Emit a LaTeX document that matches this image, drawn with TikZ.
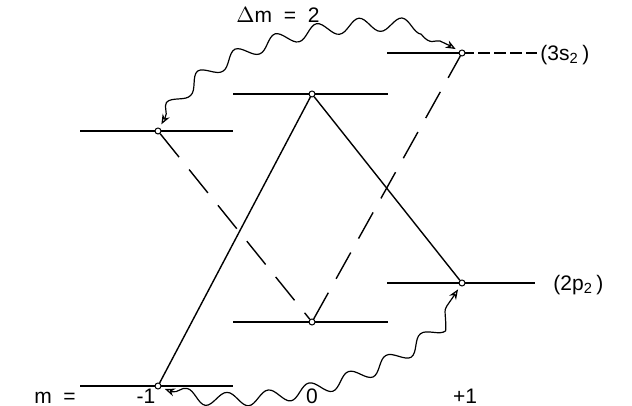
\documentclass[tikz,border=0pt]{standalone}
\usepackage{fontspec}
\setmainfont{Liberation Sans}
\usetikzlibrary{arrows.meta,decorations.pathmorphing}
\tikzset{
  level/.style={line width=0.7pt},
  transsolid/.style={line width=0.7pt},
  transdashed/.style={line width=0.7pt, dash pattern=on 15pt off 8pt},
  tailline/.style={line width=0.6pt, dash pattern=on 6pt off 2pt},
  state/.style={circle, draw, fill=white, line width=0.5pt, inner sep=0pt, minimum size=3pt},
  wavy/.style={{Stealth[open,length=5pt,width=4pt]}-{Stealth[open,length=5pt,width=4pt]}, line width=0.6pt,
    decorate, decoration={snake, amplitude=3.5pt, segment length=21pt, pre length=6pt, post length=6pt},
    shorten <=2pt, shorten >=2pt},
  lbl/.style={font=\fontsize{10.5}{12}\selectfont, inner sep=0pt}
}
\begin{document}
\begin{tikzpicture}[x=0.5pt,y=-0.5pt]
\useasboundingbox (0,0) rectangle (632,406);
% levels
\draw[level] (80,131) -- (233,131);
\draw[level] (233,94) -- (388,94);
\draw[level] (387,53) -- (462,53);
\draw[tailline] (462,53) -- (537,53);
\draw[level] (80,386) -- (233,386);
\draw[level] (233,322) -- (388,322);
\draw[level] (387,283) -- (535,283);
% sublevel points
\node[state] (up1) at (158,131) {};
\node[state] (up0) at (312,94) {};
\node[state] (upp) at (462,53) {};
\node[state] (lo1) at (158,386) {};
\node[state] (lo0) at (312,322) {};
\node[state] (lop) at (462,283) {};
% transitions
\draw[transsolid] (lo1) -- (up0) -- (lop);
\draw[transdashed] (up1) -- (lo0) -- (upp);
% coherences
\draw[wavy] (up1) .. controls (200,40) and (400,10) .. (upp);
\draw[wavy] (lo1) .. controls (205,410) and (395,396) .. (lop);
% labels
\node[lbl] (dm) at (278,15) {$\Delta$m\ \ =\ \ 2};
\node[lbl, anchor=west] (s3) at (540,55) {(3s\textsubscript{2}\,)};
\node[lbl, anchor=west] (p2) at (553,285) {(2p\textsubscript{2}\,)};
\node[lbl, anchor=base] (mlab) at (55,403) {m\ \ =};
\node[lbl, anchor=base] (mneg) at (146,403) {-1};
\node[lbl, anchor=base] (mzero) at (312,403) {0};
\node[lbl, anchor=base] (mpos) at (465,403) {+1};
\end{tikzpicture}
\end{document}
